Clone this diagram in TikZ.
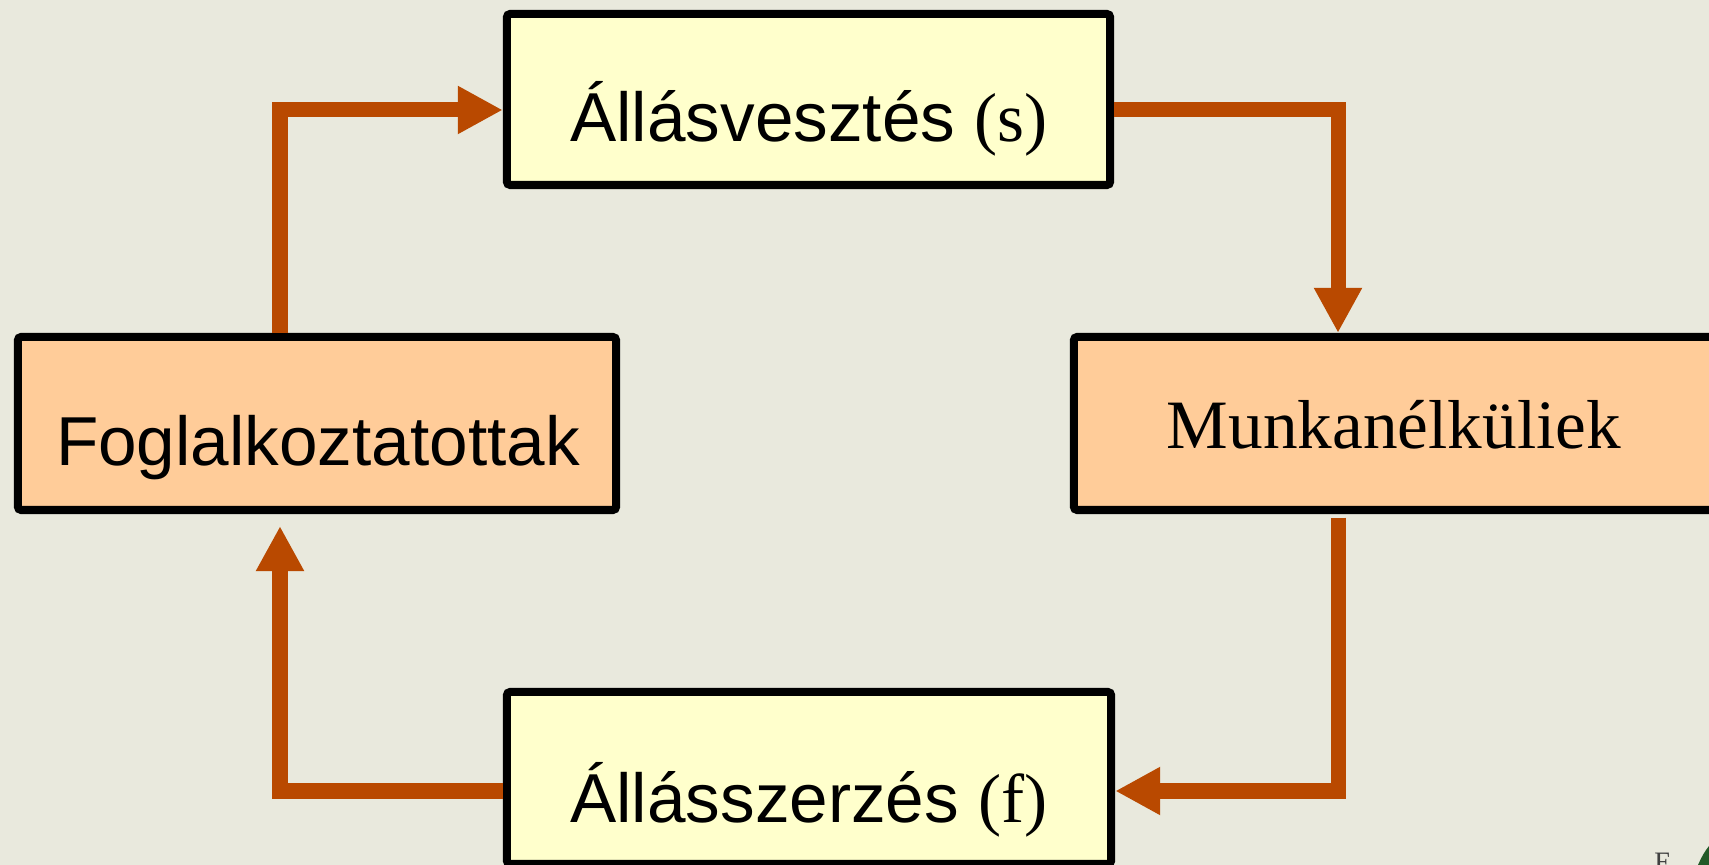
\documentclass[tikz,border=0pt]{standalone}
\usepackage{fontspec}
\setmainfont{Liberation Sans}
\newfontfamily\tnr{Liberation Serif}
\usetikzlibrary{arrows.meta}
\definecolor{bg}{RGB}{233,233,221}
\definecolor{ylw}{RGB}{255,255,204}
\definecolor{pch}{RGB}{255,204,153}
\definecolor{arrc}{RGB}{185,73,0}
\definecolor{logogreen}{RGB}{34,90,40}
\tikzset{
  boxy/.style={draw=black, line width=2.3pt, rounded corners=1pt, inner sep=0pt},
  ybox/.style={boxy, fill=ylw},
  pbox/.style={boxy, fill=pch},
  lbl/.style={anchor=base, inner sep=0pt, font=\fontsize{19.7pt}{22pt}\selectfont},
  arr/.style={draw=arrc, line width=4.27pt, -{Triangle[length=12.8pt, width=12.8pt]}}
}
\begin{document}
\begin{tikzpicture}[x=0.01cm, y=-0.01cm]
\useasboundingbox (0,0) rectangle (1709,865);
\fill[bg] (0,0) rectangle (1709,865);
\clip (0,0) rectangle (1709,865);
% boxes
\node[ybox, minimum width=6.03cm, minimum height=1.71cm] (top) at (808.5,99.5) {};
\node[pbox, minimum width=5.98cm, minimum height=1.73cm] (left) at (317,423.5) {};
\node[pbox, minimum width=6.40cm, minimum height=1.73cm] (right) at (1394,423.5) {};
\node[ybox, minimum width=6.04cm, minimum height=1.72cm] (bottom) at (809,778) {};
% labels
\node[lbl] (ttop) at (809,142) {Állásvesztés {\tnr (s)}};
\node[lbl] (tleft) at (318,466) {Foglalkoztatottak};
\node[lbl] (tright) at (1394,449) {\tnr Munkanélküliek};
\node[lbl] (tbottom) at (809,823) {Állásszerzés {\tnr (f)}};
% helper coordinates
\coordinate (xl) at (280,0);
\coordinate (xr) at (1338,0);
\coordinate (yt) at (0,110);
\coordinate (yb) at (0,791);
% connectors
\draw[arr] (left.north -| xl) -- (xl |- yt) -- (top.west |- yt);
\draw[arr] (top.east |- yt) -- (xr |- yt) -- (right.north -| xr);
\draw[arr] ([yshift=-1pt]right.south -| xr) -- (xr |- yb) -- (bottom.east |- yb);
\draw[arr] (bottom.west |- yb) -- (xl |- yb) -- ([yshift=-3.4pt]left.south -| xl);
% corner logo fragment
\node[anchor=base, inner sep=0pt, font=\tnr\fontsize{8pt}{9pt}\selectfont, text=black!75] (logoE) at (1663,872) {E};
\fill[logogreen] (1698,865) .. controls (1702,856) and (1705,851) .. (1709,846) -- (1709,865) -- cycle;
\end{tikzpicture}
\end{document}
